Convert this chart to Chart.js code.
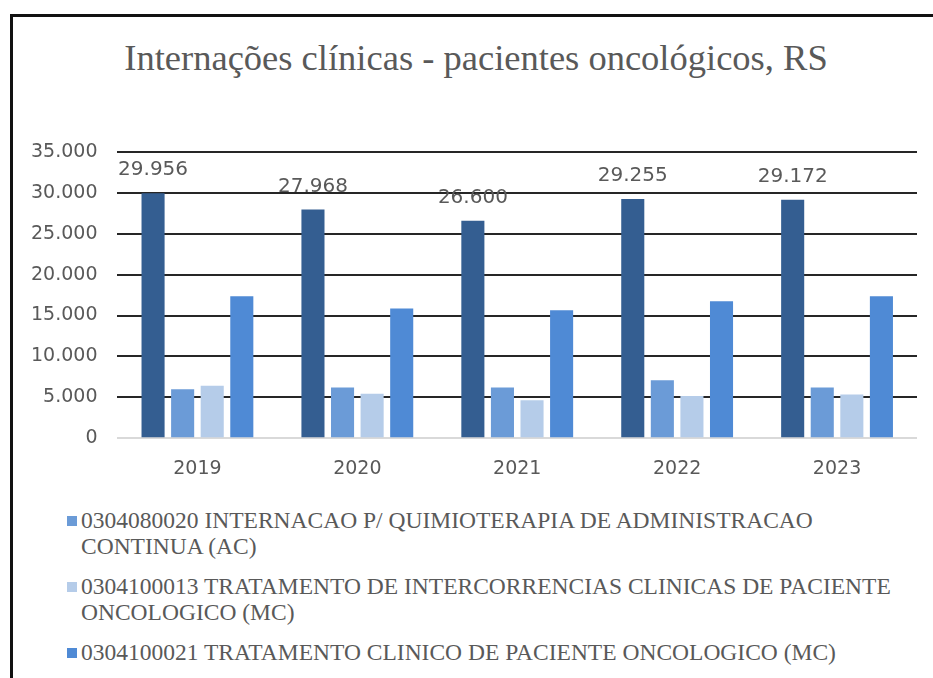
<!DOCTYPE html>
<html>
<head>
<meta charset="utf-8">
<script src="https://cdn.jsdelivr.net/npm/chart.js@4/dist/chart.umd.min.js"></script>
<style>
  html, body { margin: 0; padding: 0; background: #fff; }
  #wrap { position: relative; width: 933px; height: 678px; overflow: hidden; }
  #frame {
    position: absolute; left: 10px; top: 14px; width: 940px; height: 700px;
    border-left: 3px solid #111; border-top: 3px solid #111;
  }
  #title {
    position: absolute; left: 0; top: 36px; width: 952px; text-align: center;
    font-family: "Liberation Serif", "Times New Roman", serif;
    font-size: 36.5px; line-height: 44px; color: #595959;
  }
  #chartBox { position: absolute; left: 0; top: 0; width: 933px; height: 503px; }
  #legend {
    position: absolute; left: 67px; top: 507px;
    font-family: "Liberation Serif", "Times New Roman", serif;
    font-size: 23.5px; color: #595959; line-height: 26px;
  }
  .item { display: flex; align-items: flex-start; margin-bottom: 14px; }
  .swatch { width: 10px; height: 10px; margin-top: 9px; margin-right: 4px; flex: none; }
</style>
</head>
<body>
<div id="wrap">
  <div id="frame"></div>
  <div id="title">Internações clínicas - pacientes oncológicos, RS</div>
  <div id="chartBox"><canvas id="admissionsChart" width="933" height="503"></canvas></div>
  <div id="legend"></div>
</div>
<script>
const years = ["2019", "2020", "2021", "2022", "2023"];

// total of the three procedures (only its bars get value labels)
const totalAdmissions = [29956, 27968, 26600, 29255, 29172];
const quimioAC = [6000, 6200, 6200, 7100, 6200];
const intercorrenciasMC = [6400, 5450, 4650, 5150, 5350];
const tratamentoMC = [17350, 15850, 15650, 16750, 17350];

const seriesNames = [
  "Total",
  "0304080020 INTERNACAO P/ QUIMIOTERAPIA DE ADMINISTRACAO\nCONTINUA (AC)",
  "0304100013 TRATAMENTO DE INTERCORRENCIAS CLINICAS DE PACIENTE\nONCOLOGICO (MC)",
  "0304100021 TRATAMENTO CLINICO DE PACIENTE ONCOLOGICO (MC)",
];
const seriesColors = ["#345e91", "#6b9bd7", "#b5cce9", "#4f8ad5"];

const yTicks = [0, 5000, 10000, 15000, 20000, 25000, 30000, 35000];

function formatThousands(value) {
  return String(value).replace(/\B(?=(\d{3})+(?!\d))/g, ".");
}

// values above the total bars
const totalLabels = {
  id: "totalLabels",
  afterDatasetsDraw(chart) {
    const ctx = chart.ctx;
    const meta = chart.getDatasetMeta(0);
    ctx.save();
    ctx.font = '20px "DejaVu Sans", sans-serif';
    ctx.fillStyle = "#595959";
    ctx.textAlign = "center";
    ctx.textBaseline = "alphabetic";
    meta.data.forEach((bar, i) => {
      ctx.fillText(formatThousands(totalAdmissions[i]), bar.x, bar.y - 18);
    });
    ctx.restore();
  },
};

function buildLegend() {
  const legend = document.getElementById("legend");
  for (let i = 1; i < seriesNames.length; i++) {
    const item = document.createElement("div");
    item.className = "item";
    const swatch = document.createElement("span");
    swatch.className = "swatch";
    swatch.style.background = seriesColors[i];
    const text = document.createElement("span");
    text.innerHTML = seriesNames[i].replace("\n", "<br>");
    item.appendChild(swatch);
    item.appendChild(text);
    legend.appendChild(item);
  }
}

const ctx = document.getElementById("admissionsChart").getContext("2d");
const allData = [totalAdmissions, quimioAC, intercorrenciasMC, tratamentoMC];

new Chart(ctx, {
  type: "bar",
  data: {
    labels: years,
    datasets: allData.map((values, i) => ({
      label: seriesNames[i],
      data: values,
      backgroundColor: seriesColors[i],
      borderWidth: 0,
      categoryPercentage: 0.74,
      barPercentage: 0.78,
    })),
  },
  options: {
    responsive: false,
    animation: false,
    layout: { padding: { left: 11, right: 16, top: 152, bottom: 12 } },
    scales: {
      x: {
        grid: { display: false },
        border: { display: false },
        ticks: {
          color: "#595959",
          font: { family: "DejaVu Sans", size: 19 },
          padding: 11,
        },
      },
      y: {
        min: 0,
        max: 35000,
        afterBuildTicks(axis) {
          axis.ticks = yTicks.map((v) => ({ value: v }));
        },
        border: { display: false },
        grid: {
          drawTicks: false,
          lineWidth: 2,
          color: (c) => (c.tick && c.tick.value === 0 ? "#d9d9d9" : "#262626"),
        },
        ticks: {
          color: "#595959",
          font: { family: "DejaVu Sans", size: 19 },
          padding: 20,
          callback: (v) => formatThousands(v),
        },
      },
    },
    plugins: {
      legend: { display: false },
      tooltip: { enabled: false },
    },
  },
  plugins: [totalLabels],
});

buildLegend();
</script>
</body>
</html>
